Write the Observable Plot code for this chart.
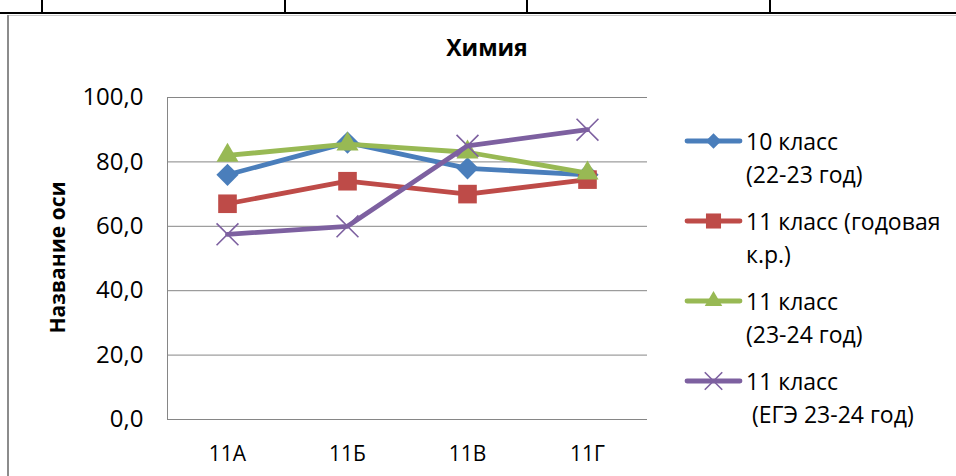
<!DOCTYPE html>
<html><head><meta charset="utf-8">
<script src="https://cdn.jsdelivr.net/npm/d3@7"></script>
<script src="https://cdn.jsdelivr.net/npm/@observablehq/plot@0.6"></script>
<style>
body{margin:0;background:#fff;font-family:"Open Sans",sans-serif;color:#000;}
#wrap{position:relative;width:956px;height:476px;overflow:hidden;background:#fff;}
#chart{position:absolute;left:0;top:0;}
.deco{position:absolute;}
.title{position:absolute;left:387px;top:36px;width:200px;text-align:center;font-weight:bold;font-size:23px;line-height:23px;}
.ylab{position:absolute;left:-43px;top:247px;width:200px;height:21px;text-align:center;font-weight:bold;font-size:21px;line-height:21px;transform:rotate(-90deg);transform-origin:center;white-space:nowrap;}
.sw{position:absolute;overflow:visible;}
.lt{position:absolute;font-size:23px;line-height:33px;white-space:pre;}
</style></head><body>
<div id="wrap">
  <div class="deco" style="left:0;top:12px;width:956px;height:2px;background:#000"></div>
  <div class="deco" style="left:41px;top:0;width:2px;height:13px;background:#000"></div>
  <div class="deco" style="left:284px;top:0;width:2px;height:13px;background:#000"></div>
  <div class="deco" style="left:526px;top:0;width:2px;height:13px;background:#000"></div>
  <div class="deco" style="left:769px;top:0;width:2px;height:13px;background:#000"></div>
  <div class="deco" style="left:8px;top:15px;width:948px;height:1px;background:#c8c8c8"></div>
  <div class="deco" style="left:7px;top:15px;width:2px;height:461px;background:#8c8c8c"></div>
  <div id="chart"></div>
  <div class="title" id="title"></div>
  <div class="ylab" id="ylab"></div>
</div>
<script>
const categories = ["11А", "11Б", "11В", "11Г"];
const seriesNames = ["10 класс\n(22-23 год)", "11 класс (годовая\nк.р.)", "11 класс\n(23-24 год)", "11 класс\n (ЕГЭ 23-24 год)"];
const s10_2223 = [76, 86, 78, 76];
const s11_godovaya = [67, 74, 70, 74.5];
const s11_2324 = [82, 85.5, 83, 76.5];
const s11_ege = [57.5, 60, 85, 90];
const yTicks = [0, 20, 40, 60, 80, 100];
const titleText = "Химия";
const yLabelText = "Название оси";
const colors = ["#4A7EBB", "#BE4B48", "#98B954", "#7D60A0"];
const symbolNames = ["diamond2", "square", "triangle", "times"];
const d3Symbols = [d3.symbolDiamond2, d3.symbolSquare, d3.symbolTriangle, d3.symbolTimes];
const markerR = [10, 10.5, 8.2, 10];
const legendR = [7, 8.5, 6.5, 8];

const allValues = [s10_2223, s11_godovaya, s11_2324, s11_ege];
const rows = allValues.map((vals, i) => vals.map((v, j) => ({cat: categories[j], value: v, series: seriesNames[i]})));

const marks = [
  Plot.ruleY(yTicks, {stroke: "#868686", strokeWidth: 1}),
  Plot.frame({anchor: "left", stroke: "#868686"}),
  Plot.axisY({ticks: yTicks, tickSize: 0, tickPadding: 24, fontSize: 24, label: null,
    tickFormat: d => d.toFixed(1).replace(".", ",")}),
  Plot.axisX({tickSize: 0, tickPadding: 27, fontSize: 21, label: null})
];
rows.forEach((r, i) => {
  marks.push(Plot.line(r, {x: "cat", y: "value", stroke: colors[i], strokeWidth: 4.8, strokeLinejoin: "round", strokeLinecap: "round"}));
  const filled = symbolNames[i] !== "times";
  marks.push(Plot.dot(r, {x: "cat", y: "value", symbol: symbolNames[i], r: markerR[i],
    fill: filled ? colors[i] : "none", stroke: filled ? "none" : colors[i], strokeWidth: 1.6}));
});

const chart = Plot.plot({
  width: 956, height: 476,
  marginLeft: 167, marginRight: 309, marginTop: 97, marginBottom: 57,
  x: {type: "point", domain: categories, padding: 0.5},
  y: {domain: [0, 100]},
  style: {fontFamily: "Open Sans", color: "#000", background: "transparent", overflow: "visible"},
  marks
});
document.getElementById("chart").appendChild(chart);
document.getElementById("title").textContent = titleText;
document.getElementById("ylab").textContent = yLabelText;

const wrap = d3.select("#wrap");
seriesNames.forEach((name, i) => {
  const cy = 141 + 80 * i;
  const sw = wrap.append("svg").attr("class", "sw")
    .style("left", "684px").style("top", (cy - 12) + "px")
    .attr("width", 60).attr("height", 24);
  sw.append("line").attr("x1", 3).attr("x2", 56).attr("y1", 12).attr("y2", 12)
    .attr("stroke", colors[i]).attr("stroke-width", 4.8).attr("stroke-linecap", "round");
  const filled = i !== 3;
  sw.append("path").attr("transform", "translate(29.5,12)")
    .attr("d", d3.symbol(d3Symbols[i], Math.PI * legendR[i] * legendR[i])())
    .attr("fill", filled ? colors[i] : "none")
    .attr("stroke", filled ? "none" : colors[i]).attr("stroke-width", 1.6);
  wrap.append("div").attr("class", "lt")
    .style("left", "746px").style("top", (cy - 16.4) + "px")
    .text(name);
});
</script>
</body></html>
